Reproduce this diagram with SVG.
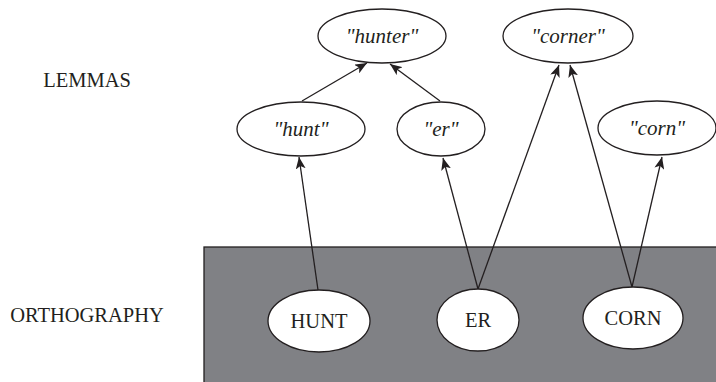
<svg xmlns="http://www.w3.org/2000/svg" width="716" height="382" viewBox="0 0 716 382">
<style>
.lbl{font-family:"Liberation Serif","Times New Roman",serif;font-size:20.5px;fill:#231f20;text-anchor:middle}
.it{font-style:italic;font-size:21px}
.node ellipse{fill:#fff;stroke:#231f20;stroke-width:1.3}
.conn line{stroke:#231f20;stroke-width:1.3;marker-end:url(#ah)}
</style>
<defs>
<marker id="ah" markerUnits="userSpaceOnUse" markerWidth="13" markerHeight="10" refX="12" refY="5" orient="auto">
<path d="M0,0 L12,5 L0,10 L3,5 z" fill="#231f20"/>
</marker>
</defs>
<rect id="orthography-layer" x="204" y="247" width="520" height="140" fill="#808185" stroke="#231f20" stroke-width="1.3"/>
<text class="lbl" x="87" y="87">LEMMAS</text>
<text class="lbl" x="87" y="322">ORTHOGRAPHY</text>
<g class="conn" id="connectors">
<line x1="318" y1="290" x2="299" y2="157"/>
<line x1="478" y1="289" x2="443" y2="158"/>
<line x1="478" y1="289" x2="559" y2="65"/>
<line x1="632" y1="287" x2="570" y2="65"/>
<line x1="632" y1="287" x2="662" y2="157"/>
<line x1="302" y1="101" x2="367" y2="63"/>
<line x1="440" y1="101" x2="390" y2="64"/>
</g>
<g class="node" id="n-hunter"><ellipse cx="382" cy="36" rx="64" ry="27"/><text class="lbl it" x="382" y="43">"hunter"</text></g>
<g class="node" id="n-corner"><ellipse cx="568" cy="36" rx="65" ry="27"/><text class="lbl it" x="568" y="43">"corner"</text></g>
<g class="node" id="n-hunt"><ellipse cx="301" cy="129" rx="64" ry="27"/><text class="lbl it" x="301" y="136">"hunt"</text></g>
<g class="node" id="n-er"><ellipse cx="441" cy="129" rx="44" ry="27"/><text class="lbl it" x="441" y="136">"er"</text></g>
<g class="node" id="n-corn"><ellipse cx="657" cy="128" rx="59" ry="27"/><text class="lbl it" x="657" y="135">"corn"</text></g>
<g class="node" id="n-HUNT"><ellipse cx="319" cy="321" rx="51" ry="31"/><text class="lbl" x="319" y="328">HUNT</text></g>
<g class="node" id="n-ER"><ellipse cx="478" cy="320" rx="41" ry="31"/><text class="lbl" x="478" y="327">ER</text></g>
<g class="node" id="n-CORN"><ellipse cx="633" cy="318" rx="50" ry="31"/><text class="lbl" x="633" y="325">CORN</text></g>
</svg>
